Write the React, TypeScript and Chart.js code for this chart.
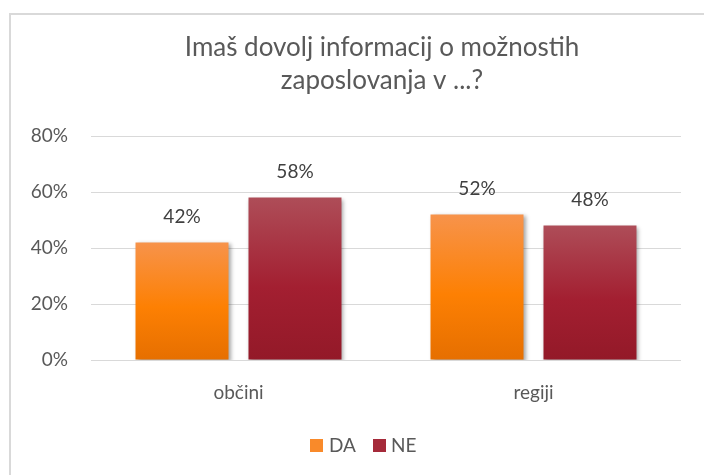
import React, { useEffect, useRef } from "react";
import { Chart, registerables } from "chart.js";
Chart.register(...registerables);

const categories = ["občini", "regiji"];
const seriesNames = ["DA", "NE"];
const daValues = [0.42, 0.52];
const neValues = [0.58, 0.48];
const yTicks = [0, 0.2, 0.4, 0.6, 0.8];
const titleLines = ["Imaš dovolj informacij o možnostih", "zaposlovanja v ...?"];

const FONT = "Lato, 'Open Sans', sans-serif";
const daStops = ["#F7934B", "#FD8003", "#E66F00"];
const neStops = ["#AE4D58", "#A31F31", "#931928"];
const legendColors = ["#F98A2A", "#A52A3A"];

function gradient(stops: string[]) {
  return (ctx: any) => {
    const chart = ctx.chart;
    if (!chart.chartArea || ctx.type !== "data") return stops[1];
    const v = ctx.parsed ? ctx.parsed.y : ctx.raw;
    const top = chart.scales.y.getPixelForValue(v);
    const bottom = chart.scales.y.getPixelForValue(0);
    const g = chart.ctx.createLinearGradient(0, top, 0, bottom);
    g.addColorStop(0, stops[0]);
    g.addColorStop(0.55, stops[1]);
    g.addColorStop(1, stops[2]);
    return g;
  };
}

const decorPlugin = {
  id: "decor",
  beforeDraw(chart: any) {
    const c = chart.ctx;
    c.save();
    c.fillStyle = "#ffffff";
    c.fillRect(0, 0, chart.width, chart.height);
    c.strokeStyle = "#d9d9d9";
    c.lineWidth = 2;
    c.strokeRect(10, 14, 800, 600);
    c.restore();
  },
  beforeDatasetsDraw(chart: any) {
    const c = chart.ctx;
    c.save();
    c.shadowColor = "rgba(0,0,0,0.35)";
    c.shadowBlur = 4;
    c.shadowOffsetX = 2;
    c.shadowOffsetY = 2;
  },
  afterDatasetsDraw(chart: any) {
    chart.ctx.restore();
  },
  afterDraw(chart: any) {
    const c = chart.ctx;
    c.save();
    // title
    c.fillStyle = "#595959";
    c.font = `26px ${FONT}`;
    c.textAlign = "center";
    c.textBaseline = "middle";
    c.fillText(titleLines[0], 382, 48);
    c.fillText(titleLines[1], 382, 81);
    // data labels
    c.font = `19px ${FONT}`;
    c.fillStyle = "#404040";
    chart.data.datasets.forEach((ds: any, i: number) => {
      const meta = chart.getDatasetMeta(i);
      meta.data.forEach((el: any, j: number) => {
        const val = ds.data[j];
        c.fillText(Math.round(val * 100) + "%", el.x, el.y - 26);
      });
    });
    // legend
    c.font = `19px ${FONT}`;
    c.textAlign = "left";
    const items = [
      { x: 310, tx: 329 },
      { x: 373, tx: 391 },
    ];
    seriesNames.forEach((name, i) => {
      c.fillStyle = legendColors[i];
      c.fillRect(items[i].x, 439, 13, 13);
      c.fillStyle = "#595959";
      c.fillText(name, items[i].tx, 446);
    });
    c.restore();
  },
};

export default function App() {
  const ref = useRef<HTMLCanvasElement>(null);
  useEffect(() => {
    if (!ref.current) return;
    const chart = new Chart(ref.current, {
      type: "bar",
      data: {
        labels: categories,
        datasets: [
          {
            label: seriesNames[0],
            data: daValues,
            backgroundColor: gradient(daStops) as any,
            borderWidth: 0,
            barPercentage: 0.823,
            categoryPercentage: 0.766,
          },
          {
            label: seriesNames[1],
            data: neValues,
            backgroundColor: gradient(neStops) as any,
            borderWidth: 0,
            barPercentage: 0.823,
            categoryPercentage: 0.766,
          },
        ],
      },
      options: {
        responsive: false,
        animation: false,
        layout: { padding: { left: 0, right: 23, top: 136, bottom: 65 } },
        plugins: {
          legend: { display: false },
          title: { display: false },
          tooltip: { enabled: false },
        },
        scales: {
          x: {
            grid: { display: false, drawTicks: false },
            border: { display: false },
            ticks: { color: "#595959", font: { family: FONT, size: 19 }, padding: 21 },
            afterFit: (s: any) => {
              s.height = 50;
            },
          },
          y: {
            min: 0,
            max: 0.8,
            afterBuildTicks: (s: any) => {
              s.ticks = yTicks.map((v) => ({ value: v }));
            },
            grid: { color: "#d9d9d9", lineWidth: 1, drawTicks: false },
            border: { display: false },
            ticks: {
              color: "#595959",
              font: { family: FONT, size: 19 },
              padding: 23,
              callback: (v: any) => Math.round(Number(v) * 100) + "%",
            },
            afterFit: (s: any) => {
              s.width = 91;
            },
          },
        },
      },
      plugins: [decorPlugin],
    });
    return () => chart.destroy();
  }, []);
  return (
    <div style={{ position: "absolute", left: 0, top: 0, width: 704, height: 475 }}>
      <canvas ref={ref} width={704} height={475} />
    </div>
  );
}
